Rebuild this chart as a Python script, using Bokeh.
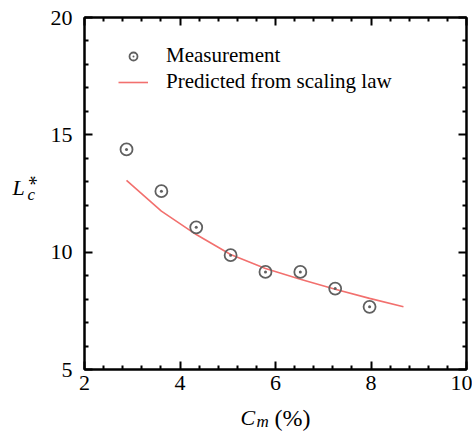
import math
from bokeh.plotting import figure
from bokeh.models import Range1d, FixedTicker, LinearAxis, Label, Legend, LegendItem
from bokeh.embed import file_html
from bokeh.resources import INLINE

# ---- data ----
cm_meas = [2.88, 3.61, 4.34, 5.06, 5.79, 6.52, 7.25, 7.97]
lc_meas = [14.38, 12.60, 11.06, 9.87, 9.16, 9.16, 8.45, 7.67]
cm_pred = [2.88, 3.61, 4.34, 5.06, 5.79, 6.52, 7.25, 7.97, 8.68]
lc_pred = [13.06, 11.75, 10.75, 9.90, 9.30, 8.85, 8.42, 8.03, 7.67]
x_ticks = [2, 4, 6, 8, 10]
y_ticks = [5, 10, 15, 20]
x_minor = [2.4, 2.8, 3.2, 3.6, 4.4, 4.8, 5.2, 5.6, 6.4, 6.8, 7.2, 7.6, 8.4, 8.8, 9.2, 9.6]
y_minor = [6, 7, 8, 9, 11, 12, 13, 14, 16, 17, 18, 19]
legend_labels = ["Measurement", "Predicted from scaling law"]

FONT = "Liberation Serif"
W, H = 472, 433
L, R, T, B = 84, 6, 17, 64
X0, X1, Y0, Y1 = 2, 10, 5, 20
fw, fh = W - L - R, H - T - B

def px2x(px):
    return X0 + (px - L) * (X1 - X0) / fw

def px2y(py):
    return Y1 - (py - T) * (Y1 - Y0) / fh

p = figure(width=W, height=H, output_backend="svg", toolbar_location=None,
           x_range=Range1d(X0, X1), y_range=Range1d(Y0, Y1),
           min_border_left=L, min_border_right=R, min_border_top=T, min_border_bottom=B,
           x_axis_location=None, y_axis_location=None)
p.grid.visible = False
p.outline_line_color = "black"
p.outline_line_width = 2
p.background_fill_color = "white"
p.border_fill_color = "white"

def style_axis(ax, ticks, minor, labels=True):
    ax.ticker = FixedTicker(ticks=ticks, minor_ticks=minor)
    ax.axis_line_color = "black"
    ax.axis_line_width = 2
    ax.major_tick_line_color = "black"
    ax.major_tick_line_width = 2
    ax.minor_tick_line_color = "black"
    ax.minor_tick_line_width = 2
    ax.major_tick_in = 8
    ax.major_tick_out = 0
    ax.minor_tick_in = 4
    ax.minor_tick_out = 0
    ax.major_label_text_font = FONT
    ax.major_label_text_color = "black"
    ax.major_label_text_font_size = "22px"
    if not labels:
        ax.major_label_overrides = {t: "" for t in ticks}
        ax.major_label_text_color = None
        ax.major_label_text_font_size = "1px"
        ax.major_label_standoff = 0

xb = LinearAxis(); style_axis(xb, x_ticks, x_minor); xb.major_label_standoff = 6
yl = LinearAxis(); style_axis(yl, y_ticks, y_minor); yl.major_label_standoff = 12
xt = LinearAxis(); style_axis(xt, x_ticks, x_minor, labels=False)
yr = LinearAxis(); style_axis(yr, y_ticks, y_minor, labels=False)
p.add_layout(xb, "below")
p.add_layout(yl, "left")
p.add_layout(xt, "above")
p.add_layout(yr, "right")

r_line = p.line(cm_pred, lc_pred, line_color="#f2706e", line_width=1.6)
r_pts = p.scatter(cm_meas, lc_meas, marker="circle_dot", size=12,
                  line_color="#606060", line_width=1.8, fill_color=None)

legend = Legend(items=[LegendItem(label=legend_labels[0], renderers=[r_pts]),
                       LegendItem(label=legend_labels[1], renderers=[r_line])],
                location=(34, 275), orientation="vertical",
                glyph_width=30, glyph_height=20, label_height=20, spacing=1,
                label_standoff=18, padding=0, margin=0,
                border_line_color=None, background_fill_alpha=0,
                label_text_font=FONT, label_text_font_size="21px",
                label_text_color="black")
p.add_layout(legend, "center")

DY = -8  # empirical baseline correction (pixels)

def lab(text, px, py, size, side, style="normal", **kw):
    opts = dict(text_baseline="alphabetic", text_align="left")
    opts.update(kw)
    if opts["text_baseline"] == "alphabetic":
        py = py + DY
    p.add_layout(Label(x=px2x(px), y=px2y(py), text=text, text_font=FONT,
                       text_font_size=size, text_font_style=style,
                       text_color="black", **opts), side)

# y-axis label L_c^*
lab("L", 12, 195, "22px", "left", "italic")
lab("c", 27, 202, "17px", "left", "italic")
lab("*", 35, 180, "20px", "above", text_align="center", text_baseline="middle",
    angle=math.pi / 2)
# x-axis label C_m (%)
lab("C", 240, 425, "22px", "left", "italic")
lab("m", 256, 429, "17px", "left", "italic")
lab("(%)", 274, 425, "24px", "below")

open("out.html", "w").write(file_html(p, INLINE))
